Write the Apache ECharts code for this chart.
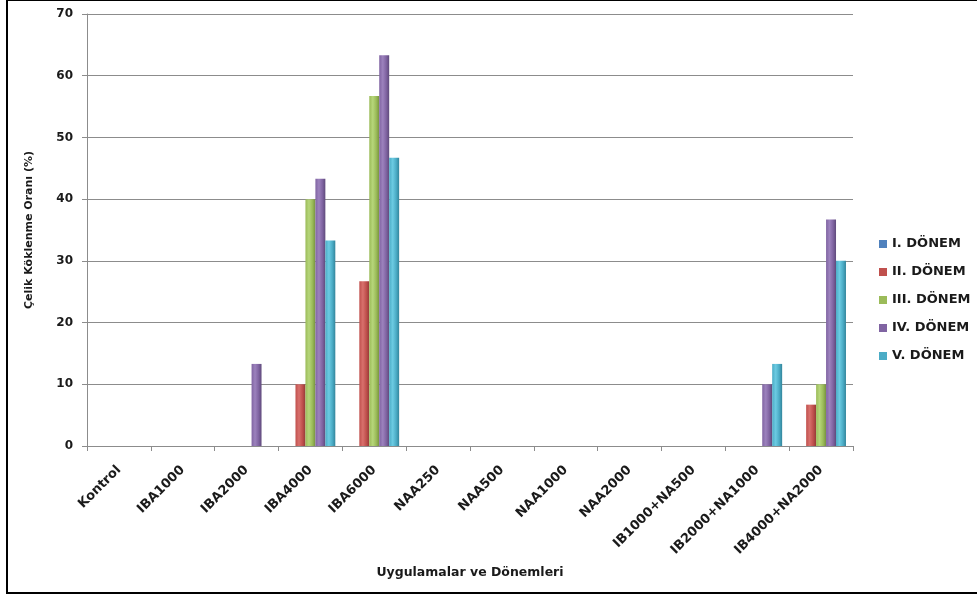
<!DOCTYPE html>
<html><head><meta charset="utf-8">
<script src="https://cdn.jsdelivr.net/npm/echarts@6/dist/echarts.min.js"></script>
<style>html,body{margin:0;padding:0;background:#fff;}#c{width:977px;height:596px;}</style>
</head><body><div id="c"></div>
<script>
const categories = ['Kontrol','IBA1000','IBA2000','IBA4000','IBA6000','NAA250','NAA500','NAA1000','NAA2000','IB1000+NA500','IB2000+NA1000','IB4000+NA2000'];
const seriesNames = ['I. DÖNEM','II. DÖNEM','III. DÖNEM','IV. DÖNEM','V. DÖNEM'];
const donem1 = [0,0,0,0,0,0,0,0,0,0,0,0];
const donem2 = [0,0,0,10,26.7,0,0,0,0,0,0,6.7];
const donem3 = [0,0,0,40,56.7,0,0,0,0,0,0,10];
const donem4 = [0,0,13.3,43.3,63.3,0,0,0,0,0,10,36.7];
const donem5 = [0,0,0,33.3,46.7,0,0,0,0,0,13.3,30];
const yTicks = [0,10,20,30,40,50,60,70];

const colors = [
  ['#6a97cf','#4F81BD','#3a6395'],
  ['#d8706c','#C0504D','#953a37'],
  ['#b6d67a','#9BBB59','#76923f'],
  ['#9c82bd','#8064A2','#5f4a7b'],
  ['#6ccbe2','#4BACC6','#33859b']
];
function grad(c){
  return new echarts.graphic.LinearGradient(0,0,1,0,[
    {offset:0,color:c[1]},{offset:0.35,color:c[0]},{offset:0.7,color:c[1]},{offset:1,color:c[2]}
  ]);
}
const dataArr = [donem1,donem2,donem3,donem4,donem5];
const font = '"DejaVu Sans", sans-serif';
const txt = '#1a1a1a';
const chart = echarts.init(document.getElementById('c'));
chart.setOption({
  animation:false,
  backgroundColor:'#fff',
  graphic:[{type:'rect',shape:{x:7,y:0,width:990,height:593},style:{fill:'none',stroke:'#000',lineWidth:2},silent:true}],
  grid:{left:87,right:124,top:14,bottom:150,containLabel:false},
  legend:{
    orient:'vertical',left:879,top:236,padding:0,itemWidth:8,itemHeight:8,itemGap:12,
    icon:'rect',
    textStyle:{fontFamily:font,fontWeight:'bold',fontSize:13,lineHeight:16,color:txt},
    data:seriesNames.map((n,i)=>({name:n,itemStyle:{color:colors[i][1]}}))
  },
  xAxis:{
    type:'category',data:categories,
    name:'Uygulamalar ve Dönemleri',nameLocation:'middle',nameGap:120,
    nameTextStyle:{fontFamily:font,fontWeight:'bold',fontSize:12.5,color:txt},
    axisLine:{lineStyle:{color:'#8c8c8c',width:1}},
    axisTick:{show:true,alignWithLabel:false,length:5,lineStyle:{color:'#8c8c8c'}},
    axisLabel:{rotate:45,interval:0,fontFamily:font,fontWeight:'bold',fontSize:13,color:txt,margin:22}
  },
  yAxis:{
    type:'value',min:0,max:70,interval:10,
    name:'Çelik Köklenme Oranı (%)',nameLocation:'middle',nameGap:52,nameRotate:90,
    nameTextStyle:{fontFamily:font,fontWeight:'bold',fontSize:11,color:txt},
    axisLine:{show:true,lineStyle:{color:'#8c8c8c'}},
    axisTick:{show:true,length:5,lineStyle:{color:'#8c8c8c'}},
    axisLabel:{fontFamily:font,fontWeight:'bold',fontSize:12,color:txt,margin:14,
      formatter:v=>yTicks.includes(v)?String(v):''},
    splitLine:{lineStyle:{color:'#8c8c8c',width:1}}
  },
  series: seriesNames.map((n,i)=>({
    name:n,type:'bar',data:dataArr[i],barGap:'0%',barCategoryGap:'22%',
    itemStyle:{color:grad(colors[i])},
    emphasis:{disabled:true}
  }))
});
</script></body></html>
